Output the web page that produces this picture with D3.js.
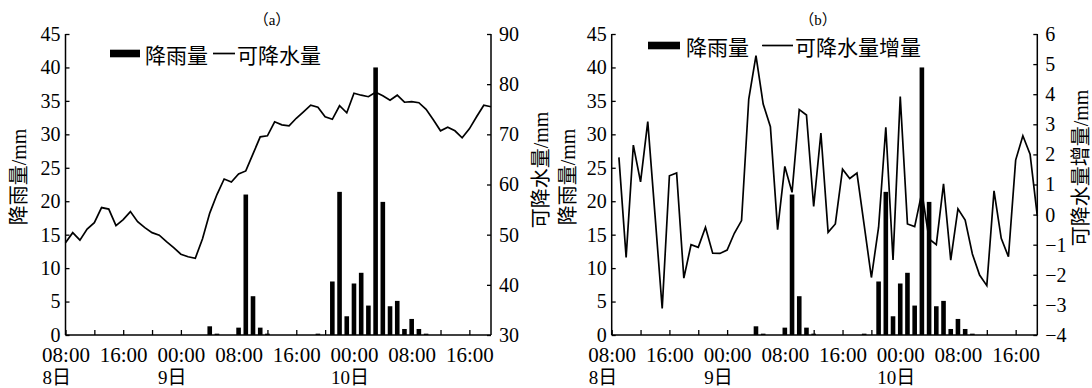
<!DOCTYPE html>
<html><head><meta charset="utf-8">
<script src="https://cdn.jsdelivr.net/npm/d3@7"></script>
<style>
body{margin:0;background:#fff}
svg{display:block}
text{fill:#000}
.num{font-family:"Liberation Serif","Times New Roman",serif}
.mix{font-family:"Liberation Serif","Noto Sans CJK SC",sans-serif}
.cjk{font-family:"Noto Sans CJK SC",sans-serif}
</style>
</head><body>
<svg id="c" width="1092" height="388"></svg>
<script>
// ---------------- data ----------------
// hourly series, index 0 = 08:00 on the 8th
const tickHours = [0,4,8,12,16,20,24,28,32,36,40,44,48,52,56];
const labelHours = [0,8,16,24,32,40,48,56];
const hourLabels = ["08:00","16:00","00:00","08:00","16:00","00:00","08:00","16:00"];
const dayLabelHours = [0,16,40];
const dayLabels = ["8日","9日","10日"];

const rain = [
  0,0,0,0,0,0,0,0,0,0, 0,0,0,0,0,0,0,0,0,0,
  1.3,0.2,0,0,1.1,21.0,5.8,1.1,0.2,0,
  0,0,0,0,0,0.2,0,8.0,21.4,2.8,
  7.7,9.3,4.4,40.0,19.9,4.3,5.1,0.9,2.4,0.9,
  0.2,0,0,0,0,0,0,0,0,0
];
// precipitable water (mm), hours 0..59
const pw = [
  48.4,50.4,48.9,51.1,52.4,55.4,55.1,51.8,53.0,54.6,
  52.6,51.4,50.4,49.9,48.6,47.4,46.1,45.6,45.3,49.2,
  54.3,58.0,61.1,60.5,62.1,62.7,66.1,69.5,69.7,72.5,
  71.9,71.7,73.2,74.5,75.8,75.4,73.5,73.0,75.7,74.3,
  78.2,77.8,77.5,78.4,77.7,76.8,77.8,76.4,76.5,76.3,
  75.0,72.9,70.7,71.4,70.7,69.3,71.1,73.5,75.8,75.5
];
// precipitable water increment (mm), hours 1..59
const dpw = [
  1.90,-1.42,2.31,1.09,3.09,0.0,-3.12,1.29,1.38,-2.11,
  -1.00,-1.09,-0.42,-1.28,-1.29,-1.18,-0.62,-0.20,3.84,5.28,
  3.67,2.92,-0.50,1.60,0.74,3.49,3.31,0.27,2.71,-0.59,
  -0.31,1.51,1.20,1.38,-0.35,-2.09,-0.42,2.90,-1.51,3.92,
  -0.31,-0.40,0.74,-0.81,-1.00,1.02,-1.51,0.19,-0.18,-1.31,
  -2.01,-2.36,0.79,-0.79,-1.40,1.81,2.62,2.01,-0.04
];
const leftTicks = [0,5,10,15,20,25,30,35,40,45];
const rightTicksA = [30,40,50,60,70,80,90];
const rightTicksB = [-4,-3,-2,-1,0,1,2,3,4,5,6];

// ---------------- drawing ----------------
const svg = d3.select("#c");

const panels = [
  {x0:65.5, x1:491, title:"（a）", titleX:272,
   line: pw.map((v,i)=>[i,v]), rDomain:[30,90], rTicks:rightTicksA,
   rTitle:"可降水量/mm", rTitleX:541, rTitleY:170,
   lTitleX:19, legY:53.5, rect:[110,140], ltxt:145, lline:[213,235], ltxt2:237,
   lname:"可降水量"},
  {x0:611.7, x1:1037.3, title:"（b）", titleX:818,
   line: dpw.map((v,i)=>[i+1,v]), rDomain:[-4,6], rTicks:rightTicksB,
   rTitle:"可降水量增量/mm", rTitleX:1081, rTitleY:168,
   lTitleX:568, legY:45.5, rect:[648,680], ltxt:686, lline:[762,793], ltxt2:795,
   lname:"可降水量增量"}
];
const yTop = 34, yBot = 335;

panels.forEach(p => {
  const g = svg.append("g");
  const x = d3.scaleLinear().domain([0,59]).range([p.x0,p.x1]);
  const yL = d3.scaleLinear().domain([0,45]).range([yBot,yTop]);
  const yR = d3.scaleLinear().domain(p.rDomain).range([yBot,yTop]);

  // bars
  const bw = 4.6;
  g.append("g").selectAll("rect").data(rain.map((v,i)=>[i,v]).filter(d=>d[1]>0))
    .join("rect")
    .attr("x", d=>x(d[0])-bw/2).attr("width", bw)
    .attr("y", d=>yL(d[1])).attr("height", d=>yBot-yL(d[1]))
    .attr("fill","#000");

  // line
  g.append("path").datum(p.line)
    .attr("d", d3.line().x(d=>x(d[0])).y(d=>yR(d[1])))
    .attr("fill","none").attr("stroke","#000").attr("stroke-width",1.7)
    .attr("stroke-linejoin","miter");

  // axes
  const fmt = v => (v<0 ? "−"+Math.abs(v) : String(v));
  const axL = g.append("g").attr("transform",`translate(${p.x0},0)`)
    .call(d3.axisLeft(yL).tickValues(leftTicks).tickSize(-4).tickPadding(5));
  const axR = g.append("g").attr("transform",`translate(${p.x1},0)`)
    .call(d3.axisRight(yR).tickValues(p.rTicks).tickSize(-4).tickPadding(8).tickFormat(fmt));
  const axB = g.append("g").attr("transform",`translate(0,${yBot})`)
    .call(d3.axisBottom(x).tickValues(tickHours).tickSize(-5).tickPadding(12)
      .tickFormat(h => { const k = labelHours.indexOf(h); return k<0 ? "" : hourLabels[k]; }));
  [axL,axR,axB].forEach(a=>{
    a.attr("font-family",null).attr("font-size",null);
    a.select(".domain").attr("stroke","#000").attr("stroke-width",1.5);
    a.selectAll(".tick line").attr("stroke","#000").attr("stroke-width",1.3);
    a.selectAll("text").attr("class","num").attr("fill","#000");
  });
  axL.selectAll("text").style("font-size","20px");
  axR.selectAll("text").style("font-size","20px");
  axB.selectAll("text").style("font-size","21px");
  axL.select(".domain").attr("d",`M0,${yBot}V${yTop}`);
  axR.select(".domain").attr("d",`M0,${yBot}V${yTop}`);
  axB.select(".domain").attr("d",`M${p.x0},0H${p.x1}`);

  // day labels, left-aligned with the time label above them
  const labelW = {};
  axB.selectAll(".tick").each(function(h){
    const t = d3.select(this).select("text").node();
    if (t && t.textContent) labelW[h] = t.getComputedTextLength();
  });
  g.append("g").selectAll("text").data(dayLabelHours)
    .join("text").attr("class","mix")
    .attr("x", (h)=>x(h) - (labelW[h]||48)/2 + 1)
    .attr("y", 384)
    .style("font-size","19px")
    .text((h,i)=>dayLabels[i]);

  // panel title
  g.append("text").attr("class","mix").attr("x",p.titleX).attr("y",25).attr("text-anchor","middle")
    .style("font-size","15px").text(p.title);

  // axis titles
  g.append("text").attr("class","mix").attr("transform",`translate(${p.lTitleX},177) rotate(-90)`)
    .attr("text-anchor","middle").attr("dominant-baseline","central")
    .style("font-size","20px").text("降雨量/mm");
  g.append("text").attr("class","mix").attr("transform",`translate(${p.rTitleX},${p.rTitleY}) rotate(-90)`)
    .attr("text-anchor","middle").attr("dominant-baseline","central")
    .style("font-size","20px").text(p.rTitle);

  // legend
  g.append("rect").attr("x",p.rect[0]).attr("width",p.rect[1]-p.rect[0])
    .attr("y",p.legY-3.8).attr("height",7.6).attr("fill","#000");
  g.append("text").attr("class","cjk").attr("x",p.ltxt).attr("y",p.legY).attr("dominant-baseline","central")
    .style("font-size","21px").text("降雨量");
  g.append("line").attr("x1",p.lline[0]).attr("x2",p.lline[1])
    .attr("y1",p.legY).attr("y2",p.legY).attr("stroke","#000").attr("stroke-width",1.7);
  g.append("text").attr("class","cjk").attr("x",p.ltxt2).attr("y",p.legY).attr("dominant-baseline","central")
    .style("font-size","21px").text(p.lname);
});
</script>
</body></html>
